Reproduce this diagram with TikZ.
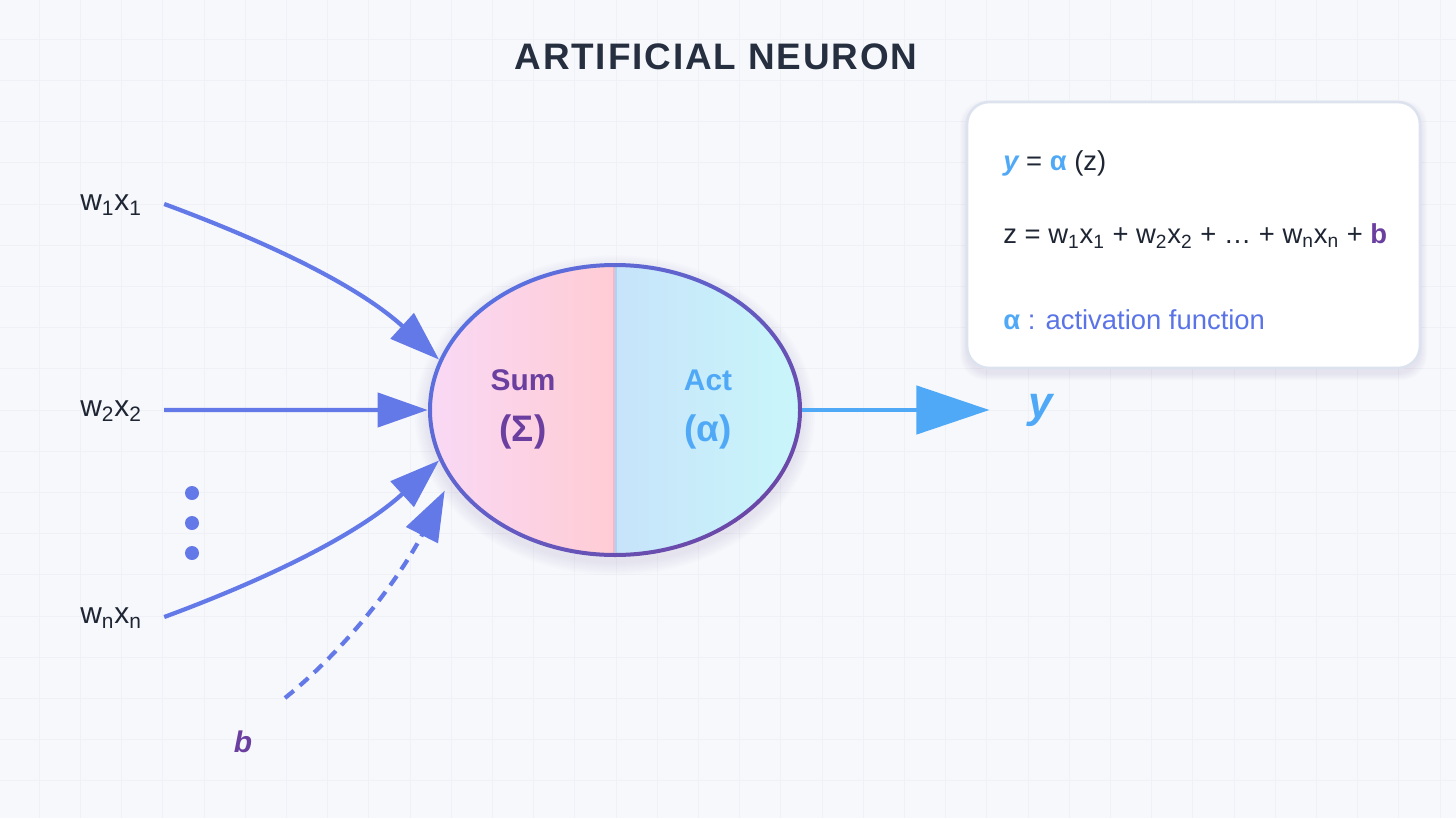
\documentclass[tikz,border=0pt]{standalone}
\usepackage{fontspec}
\setmainfont{Liberation Sans}
\newfontfamily\titlefont[LetterSpace=5]{Liberation Sans}
\usetikzlibrary{positioning, arrows.meta, shapes.geometric}
\definecolor{pageBg}{HTML}{F7F8FC}
\definecolor{gridGrey}{HTML}{EFF1F6}
\definecolor{titleNavy}{HTML}{252F40}
\definecolor{textDark}{HTML}{1E2533}
\definecolor{inputBlue}{HTML}{6479E8}
\definecolor{outputBlue}{HTML}{4FA9F7}
\definecolor{neuronPurple}{HTML}{6A3FA0}
\definecolor{ringBlue}{HTML}{5B70E0}
\definecolor{ringPurple}{HTML}{6B48A8}
\definecolor{sumLeft}{HTML}{F9D9F6}
\definecolor{sumRight}{HTML}{FFCCD4}
\definecolor{actLeft}{HTML}{C7E3FA}
\definecolor{actRight}{HTML}{C9F7FA}
\definecolor{divPink}{HTML}{F0B8C8}
\definecolor{divBlue}{HTML}{A8D4F5}
\definecolor{boxEdge}{HTML}{DDE3EE}
\definecolor{noteBlue}{HTML}{5A74E8}

\begin{document}
\begin{tikzpicture}[x=0.02cm, y=-0.02cm,
    inlabel/.style={font=\fontsize{17}{20}\selectfont, text=textDark, inner sep=0pt, anchor=mid west},
    boxtext/.style={font=\fontsize{15.6}{19}\selectfont, text=textDark, inner sep=0pt, anchor=west},
    feed/.style={inputBlue, line width=2.4pt, -{Triangle[length=1cm, width=0.68cm]}},
    halftext/.style={font=\fontsize{17}{20}\selectfont\bfseries},
    halfsym/.style={font=\fontsize{21}{24}\selectfont\bfseries}]
    \useasboundingbox (0,0) rectangle (1456,818);
    \fill[pageBg] (0,0) rectangle (1456,818);
    \foreach \g in {0,...,35}
      \draw[gridGrey, line width=0.5pt] (-2+41.2*\g,0) -- (-2+41.2*\g,818);
    \foreach \g in {0,...,20}
      \draw[gridGrey, line width=0.5pt] (0,-2+41.2*\g) -- (1456,-2+41.2*\g);

    \node[font=\titlefont\bfseries\fontsize{21}{24}\selectfont, text=titleNavy] (title) at (716,57) {ARTIFICIAL NEURON};

    % neuron
    \node[ellipse, minimum width=7.48cm, minimum height=5.88cm, inner sep=0pt] (neuron) at (615,410) {};
    \foreach \g [evaluate=\g as \rx using 186+2*\g, evaluate=\g as \ry using 146+2*\g] in {1,...,7}
      \fill[neuronPurple, opacity=0.014] ([yshift=-3pt]neuron.center) ellipse [x radius=\rx, y radius=\ry];
    \begin{scope}
      \clip (neuron.center) ellipse [x radius=185, y radius=145];
      \shade[left color=sumLeft, right color=sumRight] (425,255) rectangle (615,565);
      \shade[left color=actLeft, right color=actRight] (615,255) rectangle (805,565);
    \end{scope}
    \draw[divPink, line width=1pt] ([xshift=-0.5pt]neuron.north) -- ([xshift=-0.5pt]neuron.south);
    \draw[divBlue, line width=1pt] ([xshift=0.5pt]neuron.north) -- ([xshift=0.5pt]neuron.south);
    \shade[even odd rule, top color=ringBlue, bottom color=ringPurple, shading angle=45]
      (neuron.center) ellipse [x radius=187, y radius=147]
      (neuron.center) ellipse [x radius=183, y radius=143];

    \node[halftext, text=neuronPurple] (sum) at (523,380) {Sum};
    \node[halfsym, text=neuronPurple] (sumSym) at (523,432) {(Σ)};
    \node[halftext, text=outputBlue] (act) at (708,380) {Act};
    \node[halfsym, text=outputBlue] (actSym) at (708,432) {(α)};

    % inputs
    \node[inlabel] (in1) at (80,206) {w\textsubscript{1}x\textsubscript{1}};
    \node[inlabel] (in2) at (80,412) {w\textsubscript{2}x\textsubscript{2}};
    \node[inlabel] (inN) at (80,619) {w\textsubscript{n}x\textsubscript{n}};
    \coordinate[right=0.44cm of in1.mid east, yshift=0.04cm] (tail1);
    \coordinate[right=0.44cm of in2.mid east, yshift=0.04cm] (tail2);
    \coordinate[right=0.44cm of inN.mid east, yshift=0.04cm] (tailN);
    \foreach \d in {493,523,553}
      \fill[inputBlue] (192,\d) circle [radius=7];
    \node[font=\fontsize{17}{20}\selectfont\bfseries\itshape, text=neuronPurple] (bias) at (243,742) {b};
    \coordinate (biasTail) at (285,698);

    \draw[feed] (tail1) .. controls +(103,38) and +(-81,-74) .. (neuron.164);
    \draw[feed] (tail2) -- (neuron.west);
    \draw[feed] (tailN) .. controls +(103,-38) and +(-81,74) .. (neuron.196);
    \draw[inputBlue, line width=2.4pt, dash pattern=on 6.5pt off 4.5pt,
      -{Triangle[length=1cm, width=0.7cm]}, shorten >=0.24cm]
      (biasTail) .. controls +(73,-59) and +(-43,84) .. (neuron.203);

    % output
    \node[font=\fontsize{25}{29}\selectfont\bfseries\itshape, text=outputBlue, inner sep=0pt] (out) at (1041,410) {y};
    \draw[outputBlue, line width=2.6pt, -{Triangle[length=1.46cm, width=0.96cm]}, shorten >=0.78cm] (neuron.east) -- (out.west);

    % formula box
    \foreach \g in {1,...,7}
      \fill[neuronPurple, opacity=0.016, rounded corners=0.5cm] (967-\g,102-\g+5) rectangle (1420+\g,368+\g+5);
    \node[draw=boxEdge, line width=1.5pt, fill=white, rounded corners=0.44cm,
      minimum width=9.06cm, minimum height=5.32cm] (box) at (1193.5,235) {};
    \node[boxtext] (eqY) at (1003,163) {{\bfseries\itshape\color{outputBlue}y} = {\bfseries\color{outputBlue}α} (z)};
    \node[boxtext] (eqZ) at (1003,236) {z = w\textsubscript{1}x\textsubscript{1} + w\textsubscript{2}x\textsubscript{2} + … + w\textsubscript{n}x\textsubscript{n} + {\bfseries\color{neuronPurple}b}};
    \node[boxtext, text=noteBlue] (eqA) at (1003,320) {{\bfseries\color{outputBlue}α} : activation function};
\end{tikzpicture}
\end{document}
